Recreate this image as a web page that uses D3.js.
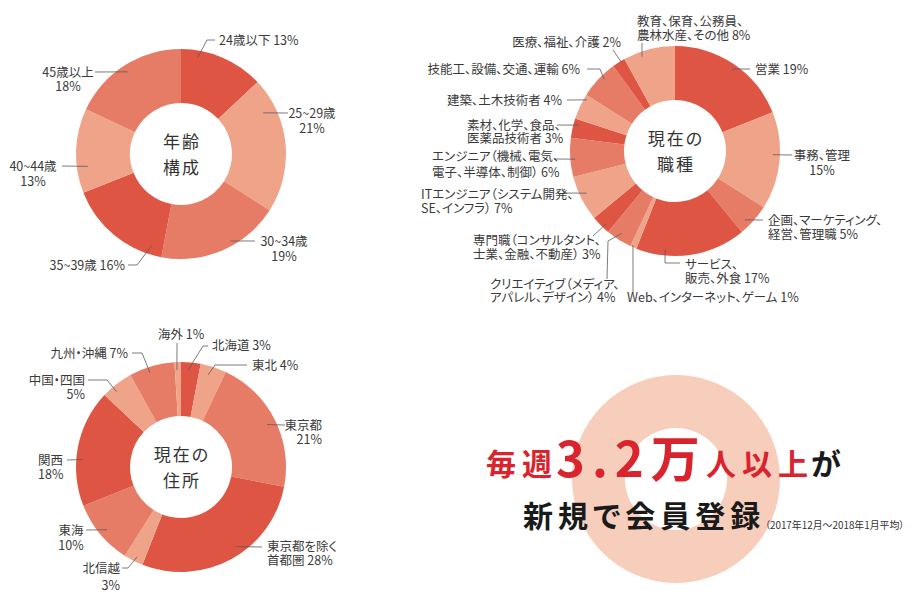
<!DOCTYPE html>
<html>
<head>
<meta charset="utf-8">
<script src="https://cdn.jsdelivr.net/npm/d3@7"></script>
<style>
    body { margin: 0; background: #fff; }
    svg text { font-family: "Noto Sans CJK JP", "Noto Sans", sans-serif; font-feature-settings: "palt"; }
</style>
</head>
<body>
<div id="chart"></div>
<script>
// --- data ---
const ageCategories = ['24歳以下', '25~29歳', '30~34歳', '35~39歳', '40~44歳', '45歳以上'];
const ageValues = [13, 21, 19, 16, 13, 18];

const jobCategories = [
    '営業', '事務、管理', '企画、マーケティング、\n経営、管理職', 'サービス、\n販売、外食',
    'Web、インターネット、ゲーム', 'クリエイティブ（メディア、\nアパレル、デザイン）',
    '専門職（コンサルタント、\n士業、金融、不動産）', 'ITエンジニア（システム開発、\nSE、インフラ）',
    'エンジニア（機械、電気、\n電子、半導体、制御）', '素材、化学、食品、\n医薬品技術者',
    '建築、土木技術者', '技能工、設備、交通、運輸', '医療、福祉、介護', '教育、保育、公務員、\n農林水産、その他'
];
const jobValues = [19, 15, 5, 17, 1, 4, 3, 7, 6, 3, 4, 6, 2, 8];

const residenceCategories = ['北海道', '東北', '東京都', '東京都を除く\n首都圏', '北信越', '東海', '関西', '中国・四国', '九州・沖縄', '海外'];
const residenceValues = [3, 4, 21, 28, 3, 10, 18, 5, 7, 1];

const ringTitles = [['年齢', '構成'], ['現在の', '職種'], ['現在の', '住所']];

const headPrefix = '毎週';
const headNumber = '3.2万';
const headSuffix = '人以上';
const headTail = 'が';
const headLine2 = '新規で会員登録';
const headNote = '（2017年12月〜2018年1月平均）';

// --- styles / layout ---
const tone = { d: '#de5544', l: '#efa489', m: '#e67c66' };
const outerR = 105, innerR = 51;

// leader start: t = position inside slice, r = radius; path = elbow points rel. to centre
// label: x, y, anchor, br (percent on its own line), lh (line height)
const ageLayout = [
    { t: .21, r: 98, path: [[26, -114], [34, -114]], x: 38, y: -114, anchor: 'start' },
    { t: .22, r: 92, path: [[107, -41]], x: 131, y: -41, anchor: 'middle', br: true, lh: 15 },
    { t: .41, r: 100, path: [[74, 87]], x: 103, y: 87, anchor: 'middle', br: true, lh: 15 },
    { t: .12, r: 96, path: [[-44, 111], [-53, 111]], x: -56, y: 111, anchor: 'end' },
    { t: .30, r: 94, path: [[-119, 12]], x: -148, y: 12, anchor: 'middle', br: true, lh: 15 },
    { t: .49, r: 98, path: [[-86, -82]], x: -113, y: -82, anchor: 'middle', br: true, lh: 14.5 }
];
const jobLayout = [
    { t: .51, r: 100, path: [[75, -82]], x: 80, y: -82, anchor: 'start' },
    { t: .44, r: 98, path: [[117, 4]], x: 147, y: 4, anchor: 'middle', br: true, lh: 15 },
    { t: .68, r: 98, path: [[88, 69]], x: 93, y: 69, anchor: 'start', lh: 14 },
    { t: .74, r: 99, path: [[-10, 112], [5, 112]], x: 10, y: 113.5, anchor: 'start', lh: 13.5 },
    { t: .69, r: 103, path: [[-42, 142]], x: -48, y: 146, anchor: 'start' },
    { t: .53, r: 98, path: [[-67, 90], [-68, 128]], x: -185, y: 133, anchor: 'start', lh: 13.5 },
    { t: .35, r: 100, path: [[-82, 85]], x: -202, y: 89, anchor: 'start', lh: 14 },
    { t: .56, r: 98, path: [[-112, 42]], x: -254, y: 43, anchor: 'start', lh: 14.5 },
    { t: .45, r: 100, path: [[-121, 8]], x: -243, y: 5, anchor: 'start', lh: 16 },
    { t: .72, r: 100, path: [[-118, -26]], x: -208, y: -26, anchor: 'start', lh: 13.5 },
    { t: .84, r: 102, path: [[-108, -51]], x: -113, y: -51, anchor: 'end' },
    { t: .60, r: 101, path: [[-75, -82], [-88, -82]], x: -95, y: -82, anchor: 'end' },
    { t: .68, r: 103, path: [[-62, -101]], x: -54, y: -109, anchor: 'end' },
    { t: .33, r: 100, path: [[-33, -108]], x: -38, y: -129.5, anchor: 'start', lh: 13.5 }
];
const residenceLayout = [
    { t: .38, r: 97, path: [[22, -121], [27, -121]], x: 31, y: -122, anchor: 'start' },
    { t: .39, r: 96, path: [[34, -102], [66, -102]], x: 71, y: -102, anchor: 'start' },
    { t: .51, r: 96, path: [[104, -42]], x: 141, y: -42, anchor: 'end', br: true, lh: 14 },
    { t: .44, r: 97, path: [[81, 80]], x: 86, y: 79, anchor: 'start', lh: 14.5 },
    { t: .41, r: 100, path: [[-53, 101], [-59, 101]], x: -61, y: 101, anchor: 'end', br: true, lh: 17 },
    { t: .48, r: 97, path: [[-95, 63]], x: -110, y: 63, anchor: 'middle', br: true, lh: 15 },
    { t: .40, r: 99, path: [[-114, -7]], x: -143, y: -7, anchor: 'start', br: true, lh: 14.5 },
    { t: .35, r: 99, path: [[-74, -87], [-93, -87]], x: -96, y: -87, anchor: 'end', br: true, lh: 14 },
    { t: .42, r: 99, path: [[-39, -114], [-49, -114]], x: -53, y: -114, anchor: 'end' },
    { t: .33, r: 97, path: [[-4, -124]], x: -23, y: -133, anchor: 'start' }
];

const svg = d3.select('#chart')
    .append('svg')
    .attr('width', 920)
    .attr('height', 606);

const arc = d3.arc().innerRadius(innerR).outerRadius(outerR);

function drawDonut(cx, cy, cats, vals, tones, layout, title) {
    const g = svg.append('g').attr('transform', `translate(${cx},${cy})`);
    const slices = d3.pie().sort(null).value(d => d)(vals);

    g.selectAll('path.slice')
        .data(slices)
        .join('path')
        .attr('class', 'slice')
        .attr('d', arc)
        .attr('fill', (d, i) => tone[tones[i]]);

    slices.forEach((d, i) => {
        const L = layout[i];
        const a = d.startAngle + L.t * (d.endAngle - d.startAngle);
        const p0 = [L.r * Math.sin(a), -L.r * Math.cos(a)];
        g.append('path')
            .attr('d', d3.line()([p0, ...L.path]))
            .attr('fill', 'none')
            .attr('stroke', '#5a5a5a')
            .attr('stroke-width', 0.8);

        const lines = cats[i].split('\n');
        const pct = vals[i] + '%';
        if (L.br) lines.push(pct);
        else lines[lines.length - 1] += ' ' + pct;

        const text = g.append('text')
            .attr('text-anchor', L.anchor)
            .attr('font-size', 12.5)
            .attr('fill', '#3a3a3a');
        lines.forEach((s, k) => {
            text.append('tspan')
                .attr('x', L.x)
                .attr('y', L.y + k * (L.lh || 14))
                .attr('dy', '0.36em')
                .text(s);
        });
    });

    // centre title
    const t = g.append('text')
        .attr('text-anchor', 'middle')
        .attr('font-size', 17)
        .attr('letter-spacing', 2)
        .attr('fill', '#333');
    title.forEach((s, k) => {
        t.append('tspan').attr('x', 1).attr('y', -12 + k * 25.5).attr('dy', '0.36em').text(s);
    });
}

drawDonut(181, 154, ageCategories, ageValues, 'dlmdlm', ageLayout, ringTitles[0]);
drawDonut(675, 151, jobCategories, jobValues, 'dlmdlmdlmdlmdl', jobLayout, ringTitles[1]);
drawDonut(181, 467, residenceCategories, residenceValues, 'dlmdlmdlml', residenceLayout, ringTitles[2]);

// registration block
svg.append('path')
    .attr('transform', 'translate(676,479)')
    .attr('d', d3.arc().innerRadius(innerR).outerRadius(104).startAngle(0).endAngle(2 * Math.PI)())
    .attr('fill', '#f7cdbb');

const red = '#d9242e', ink = '#1a1a1a';
const head = svg.append('text').attr('font-weight', 700);
head.append('tspan').attr('x', 486).attr('y', 475).attr('font-size', 30).attr('letter-spacing', 6).attr('fill', red).text(headPrefix);
head.append('tspan').attr('x', 556).attr('y', 477).attr('font-size', 49).attr('letter-spacing', 7).attr('fill', red).text(headNumber);
head.append('tspan').attr('x', 706).attr('y', 475).attr('font-size', 30).attr('letter-spacing', 6).attr('fill', red).text(headSuffix);
head.append('tspan').attr('x', 811).attr('y', 475).attr('font-size', 30).attr('fill', ink).text(headTail);

svg.append('text')
    .attr('x', 523).attr('y', 527)
    .attr('font-weight', 700)
    .attr('font-size', 30)
    .attr('letter-spacing', 5)
    .attr('fill', ink)
    .text(headLine2);

svg.append('text')
    .attr('x', 765).attr('y', 528.5)
    .attr('font-size', 9.9)
    .attr('fill', '#333')
    .text(headNote);
</script>
</body>
</html>
